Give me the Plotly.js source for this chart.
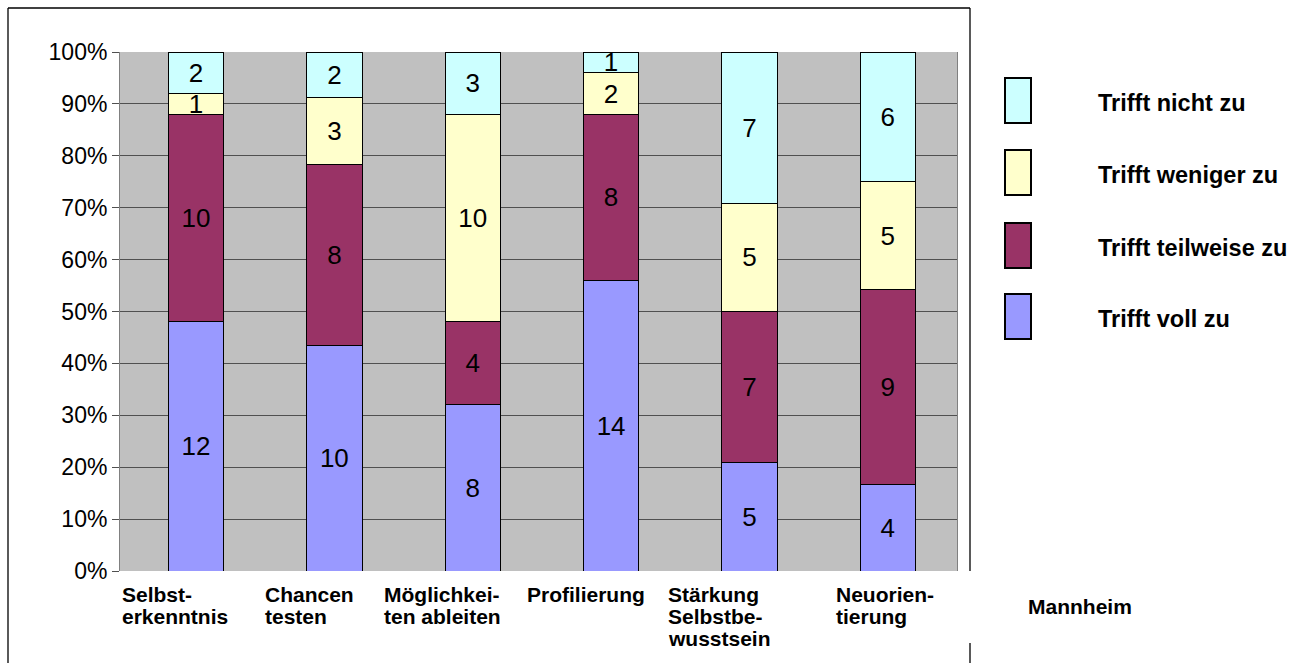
<!DOCTYPE html>
<html>
<head>
<meta charset="utf-8">
<script src="https://cdn.plot.ly/plotly-3.0.1.min.js"></script>
<style>html,body{margin:0;padding:0;background:#fff;}#chart{width:1309px;height:663px;}</style>
</head>
<body>
<div id="chart"></div>
<script>
// ---- data ----
const categories = ['Selbsterkenntnis', 'Chancen testen', 'Möglichkeiten ableiten', 'Profilierung', 'Stärkung Selbstbewusstsein', 'Neuorientierung'];
const tickLabels = ['Selbst-<br>erkenntnis', 'Chancen<br>testen', 'Möglichkei-<br>ten ableiten', 'Profilierung', 'Stärkung<br>Selbstbe-<br>wusstsein', 'Neuorien-<br>tierung'];
const trifftVoll = [12, 10, 8, 14, 5, 4];
const trifftTeilweise = [10, 8, 4, 8, 7, 9];
const trifftWeniger = [1, 3, 10, 2, 5, 5];
const trifftNicht = [2, 2, 3, 1, 7, 6];
const seriesNames = ['Trifft voll zu', 'Trifft teilweise zu', 'Trifft weniger zu', 'Trifft nicht zu'];
const chartTitle = 'Mannheim';

// ---- styles ----
const colors = ['#9999ff', '#993366', '#ffffcc', '#ccffff'];
const FONT = 'Liberation Sans, Arial, Helvetica, sans-serif';
const labelShift = [-76, -71, -91, -86, -83, -54];

// geometry helpers (plot area in pixels: x 120..957, y 52..571)
const L = 120, R = 957, T = 52, B = 571;
const px = x => (x - L) / (R - L);
const py = y => (B - y) / (B - T);

const series = [trifftVoll, trifftTeilweise, trifftWeniger, trifftNicht];
const traces = series.map((vals, i) => ({
  type: 'bar',
  name: seriesNames[i],
  x: categories,
  y: vals,
  text: vals.map(String),
  texttemplate: '%{text}',
  textposition: 'inside',
  insidetextanchor: 'middle',
  textangle: 0,
  constraintext: 'none',
  textfont: {family: FONT, size: 26, color: '#000'},
  marker: {color: colors[i], line: {color: '#000', width: 1}},
  showlegend: false,
  hoverinfo: 'name+y'
}));

const annotations = [];
const shapes = [];

// category labels
tickLabels.forEach((lab, i) => {
  lab.split('<br>').forEach((line, k) => {
    annotations.push({
      xref: 'x', yref: 'paper', x: categories[i], y: 0,
      xanchor: 'left', yanchor: 'middle', xshift: labelShift[i], yshift: -(23 + 22 * k),
      text: line, showarrow: false, align: 'left',
      font: {family: FONT, size: 21, color: '#000', weight: 'bold'}
    });
  });
});

// custom legend (top to bottom: reverse stack order)
const legendTops = [78, 150, 223, 294];
for (let j = 0; j < 4; j++) {
  const si = 3 - j;
  const top = legendTops[j];
  shapes.push({
    type: 'rect', xref: 'paper', yref: 'paper',
    x0: px(1005), x1: px(1031), y0: py(top + 45), y1: py(top),
    fillcolor: colors[si], line: {color: '#000', width: 2}
  });
  annotations.push({
    xref: 'paper', yref: 'paper', x: px(1096), y: py(top + 25),
    xanchor: 'left', yanchor: 'middle', showarrow: false,
    text: seriesNames[si],
    font: {family: FONT, size: 23.5, color: '#000', weight: 'bold'}
  });
}

// title-like label
annotations.push({
  xref: 'paper', yref: 'paper', x: px(1026), y: py(606),
  xanchor: 'left', yanchor: 'middle', showarrow: false,
  text: chartTitle,
  font: {family: FONT, size: 21, color: '#000', weight: 'bold'}
});

// outer frame
const frame = [
  [8, 8, 970, 8],
  [8, 8, 8, 700],
  [970, 8, 970, 571],
  [970, 643, 970, 700]
];
frame.forEach(f => shapes.push({
  type: 'line', xref: 'paper', yref: 'paper',
  x0: px(f[0]), y0: py(f[1]), x1: px(f[2]), y1: py(f[3]),
  line: {color: '#000', width: 1.3}
}));

const layout = {
  width: 1309, height: 663,
  margin: {l: L, r: 1309 - R, t: T, b: 663 - B, pad: 0},
  paper_bgcolor: '#ffffff',
  plot_bgcolor: '#c0c0c0',
  barmode: 'stack',
  barnorm: 'percent',
  bargap: 0.6,
  uniformtext: {mode: 'show', minsize: 26},
  font: {family: FONT, color: '#000'},
  xaxis: {
    type: 'category', showticklabels: false, showgrid: false, zeroline: false,
    showline: false, ticks: ''
  },
  yaxis: {
    range: [0, 100], dtick: 10, ticksuffix: '%',
    showgrid: true, gridcolor: '#505050', gridwidth: 1,
    zeroline: false, showline: true, linecolor: '#808080', linewidth: 1, mirror: true,
    ticks: 'outside', ticklen: 7, tickcolor: '#505050',
    tickfont: {family: FONT, size: 23, color: '#000'}
  },
  shapes: shapes,
  annotations: annotations
};

Plotly.newPlot('chart', traces, layout, {displayModeBar: false, staticPlot: true});
</script>
</body>
</html>
